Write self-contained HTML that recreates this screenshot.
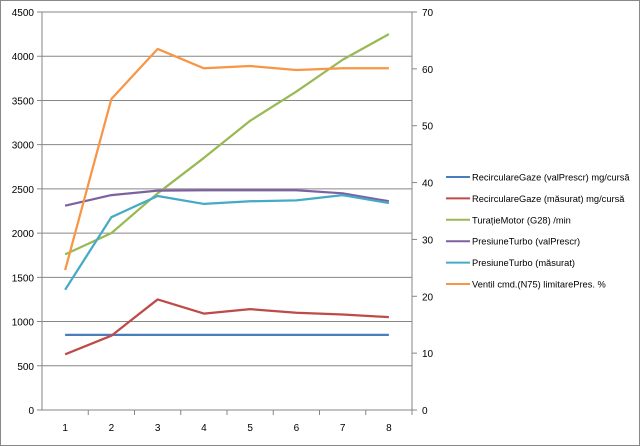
<!DOCTYPE html>
<html><head><meta charset="utf-8"><style>
body{margin:0;background:#fff}
svg{display:block;font-family:"Liberation Sans",sans-serif}
</style></head><body>
<svg id="c" width="640" height="446" viewBox="0 0 640 446">
<rect x="0.5" y="0.5" width="639" height="445" fill="#fff" stroke="#888"/>
</svg>
<script>
const categories=[1,2,3,4,5,6,7,8];
const leftTicks=[0,500,1000,1500,2000,2500,3000,3500,4000,4500];
const rightTicks=[0,10,20,30,40,50,60,70];
const recircPrescr=[850,850,850,850,850,850,850,850];
const recircMasurat=[630,840,1250,1090,1140,1100,1080,1050];
const turatie=[1760,2000,2450,2850,3270,3600,3960,4250];
const presPrescr=[2310,2430,2480,2485,2485,2485,2450,2360];
const presMasurat=[1360,2180,2420,2330,2360,2370,2430,2340];
const ventil=[24.6,54.7,63.5,60.1,60.5,59.8,60.1,60.1];
const names=["RecirculareGaze (valPrescr)  mg/cursă","RecirculareGaze (măsurat)  mg/cursă","TurațieMotor (G28)  /min","PresiuneTurbo (valPrescr)","PresiuneTurbo (măsurat)","Ventil cmd.(N75)  limitarePres.  %"];
const colors=["#4A7EBB","#BE4B48","#98B954","#7D60A0","#46AAC5","#F79646"];
const svg=document.getElementById('c');const NS='http://www.w3.org/2000/svg';
const L=42,R=412,T=12,B=410;
const xS=i=>L+(R-L)/categories.length*(i+0.5);
const yL=v=>B-v/4500*(B-T);
const yR=v=>B-v/70*(B-T);
function mk(t,a){const e=document.createElementNS(NS,t);for(const k in a)e.setAttribute(k,a[k]);svg.appendChild(e);return e;}
leftTicks.forEach(v=>{
 const g=mk('line',{x1:L-5,x2:R,y1:yL(v),y2:yL(v),stroke:v===0?'#868686':'#868686','stroke-width':1});
 
 
 const t=mk('text',{x:L-8,y:yL(v)+4,'text-anchor':'end','font-size':10,fill:'#000'});t.textContent=v;
 
 
});
rightTicks.forEach(v=>{
 const g=mk('line',{x1:R,x2:R+5,y1:yR(v),y2:yR(v),stroke:'#868686'});
 
 
 const t=mk('text',{x:R+10,y:yR(v)+4,'font-size':10,fill:'#000'});t.textContent=v;
 
 
});
const ax=mk('line',{x1:L,x2:L,y1:T,y2:B,stroke:'#868686'});


const ax2=mk('line',{x1:R,x2:R,y1:T,y2:B,stroke:'#868686'});


categories.forEach((c,i)=>{
 const xt=L+(R-L)/categories.length*(i+1);
 const tk=mk('line',{x1:xt,x2:xt,y1:B,y2:B+5,stroke:'#868686'});
 
 
 const t=mk('text',{x:xS(i),y:B+21,'text-anchor':'middle','font-size':10});t.textContent=c;
 
 
});
const series=[[recircPrescr,yL],[recircMasurat,yL],[turatie,yL],[presPrescr,yL],[presMasurat,yL],[ventil,yR]];
const sn=['line-recirc-prescr','line-recirc-masurat','line-turatie','line-pres-prescr','line-pres-masurat','line-ventil'];
series.forEach(([d,ys],k)=>{
 const p=mk('polyline',{points:d.map((v,i)=>xS(i)+','+ys(v)).join(' '),fill:'none',stroke:colors[k],'stroke-width':2.25,'stroke-linejoin':'round'});
 
 
});
names.forEach((n,k)=>{
 const y=177+k*21.4;
 const l=mk('line',{x1:446,x2:470,y1:y,y2:y,stroke:colors[k],'stroke-width':2});
 
 
 const t=mk('text',{x:472,y:y+3.5,'font-size':9.3});t.textContent=n;
 
 
});
</script>
</body></html>
